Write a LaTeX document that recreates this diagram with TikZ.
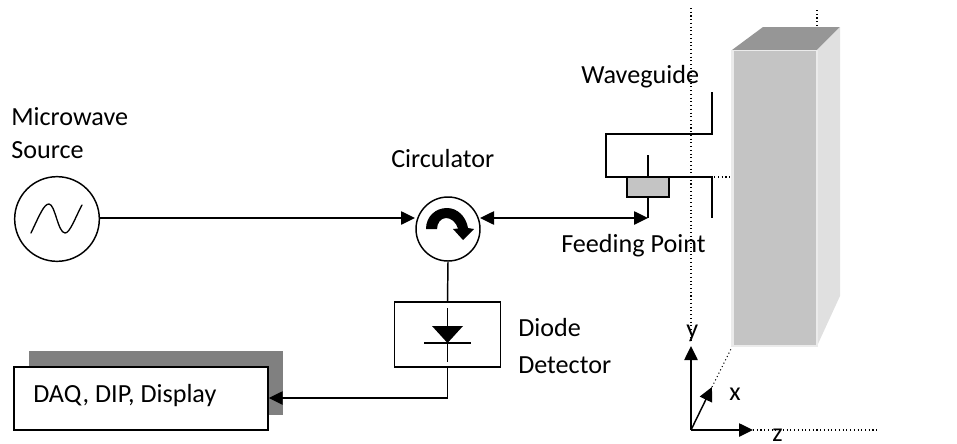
\documentclass[tikz,border=0pt]{standalone}
\usepackage{fontspec}
\setmainfont{Carlito}
\usetikzlibrary{arrows.meta}
\tikzset{
  wire/.style={draw=black,line width=1.1pt},
  tip/.style={-{Triangle[length=10.5pt,width=10pt]}},
  dots/.style={draw=black,line width=0.8pt,dash pattern=on 0.8pt off 2pt},
  lbl/.style={font=\fontsize{19.6pt}{23pt}\selectfont,inner sep=0pt,anchor=base west,text=black}
}
\begin{document}
\begin{tikzpicture}[x=0.75pt,y=-0.75pt]
\useasboundingbox (0,0) rectangle (957,443);
% dotted guides
\coordinate (gt) at (691,8); \coordinate (gb) at (691,343);
\draw[dots] (gt) -- (gb);
\coordinate (g2t) at (817,10); \coordinate (g2b) at (817,27);
\draw[dots] (g2t) -- (g2b);
% block
\fill[fill=black!41] (732,50) -- (763,27) -- (840,27) -- (817,50) -- cycle;
\fill[fill=black!12] (817,50) -- (840,27) -- (840,296) -- (817,346) -- cycle;
\fill[fill=black!8] (731,50) rectangle (818,347);
\fill[fill=black!23] (734,51) rectangle (816,345);
% waveguide
\coordinate (w1) at (712,92); \coordinate (w2) at (712,134); \coordinate (w3) at (606,134);
\coordinate (w4) at (606,177); \coordinate (w5) at (712,177); \coordinate (w6) at (712,218);
\draw[wire] (w1) -- (w2) -- (w3) -- (w4) -- (w5) -- (w6);
\node[draw=black,line width=1.1pt,fill=black!23,minimum width=31.5pt,minimum height=15pt,inner sep=0pt] (feed) at (648,187) {};
\coordinate (stem) at (648,155);
\draw[wire] (feed.north) -- (stem);
\coordinate (fp) at (648,218);
\draw[wire] (feed.south) -- (fp);
\draw[dots] (w4) -- (732,177);
% source
\node[circle,draw=black,line width=1.1pt,minimum size=63.5pt,inner sep=0pt] (src) at (57,219) {};
\draw[line width=1pt,line cap=round] (31,233) .. controls (40,214) and (44,204) .. (49,204) .. controls (55,204) and (58,233) .. (65,233) .. controls (70,233) and (75,218) .. (82,205);
% circulator
\node[circle,draw=black,line width=1.1pt,minimum size=48pt,inner sep=0pt] (circ) at (448,229) {};
\coordinate (cl) at (415,218); \coordinate (cr) at (480,218);
\coordinate (srcout) at (99,218);
\draw[wire,tip] (srcout) -- (cl);
\draw[wire,{Triangle[length=10.5pt,width=10pt]}-{Triangle[length=10.5pt,width=10pt]}] (cr) -- (fp);
\fill (426,229) .. controls (426,216) and (436,208) .. (447,208) .. controls (457,208) and (466,216) .. (468,228) -- (474,229) -- (463,240) -- (453,229) -- (458,228.5) .. controls (456,222) and (451,218) .. (446,218) .. controls (441,218) and (437,223) .. (437,229) -- cycle;
% diode box
\node[draw=black,line width=1.1pt,minimum width=79.5pt,minimum height=48.5pt,inner sep=0pt] (det) at (447.5,334.5) {};
\draw[wire] (circ.south) -- (det.north);
\coordinate (d1) at (447.5,308); \coordinate (d2) at (447.5,362);
\draw[wire] (d1) -- (d2);
\fill (432,326) -- (463,326) -- (447.5,343) -- cycle;
\coordinate (b1) at (424,343); \coordinate (b2) at (471,343);
\draw[wire] (b1) -- (b2);
% DAQ
\fill[fill=black!50] (29,351) rectangle (283,415);
\node[draw=black,line width=1.1pt,fill=white,minimum width=190.5pt,minimum height=47.25pt,inner sep=0pt] (daq) at (141,398.5) {};
\draw[wire,tip] (det.south) |- (daq.east |- 0,398);
% axes
\coordinate (o) at (691,430);
\coordinate (ax) at (712,387); \coordinate (ay) at (691,346); \coordinate (az) at (753,430);
\draw[wire,tip] (o) -- (ay);
\draw[wire,tip] (o) -- (ax);
\draw[wire,tip] (o) -- (az);
\coordinate (bc) at (732,347); \coordinate (zend) at (879,430);
\draw[dots] (ax) -- (bc);
\draw[dots] (az) -- (zend);
% labels
\node[lbl] (t1) at (11,125) {Microwave};
\node[lbl] (t2) at (11,158) {Source};
\node[lbl] (t3) at (391,167) {Circulator};
\node[lbl] (t4) at (581,83) {Waveguide};
\node[lbl] (t5) at (561,252) {Feeding Point};
\node[lbl] (t6) at (518,336) {Diode};
\node[lbl] (t7) at (518,373) {Detector};
\node[lbl] (t8) at (33,402) {DAQ, DIP, Display};
\node[lbl] (t9) at (686,337) {y};
\node[lbl] (t10) at (729,400) {x};
\node[lbl] (t11) at (772,441) {z};
\end{tikzpicture}
\end{document}
